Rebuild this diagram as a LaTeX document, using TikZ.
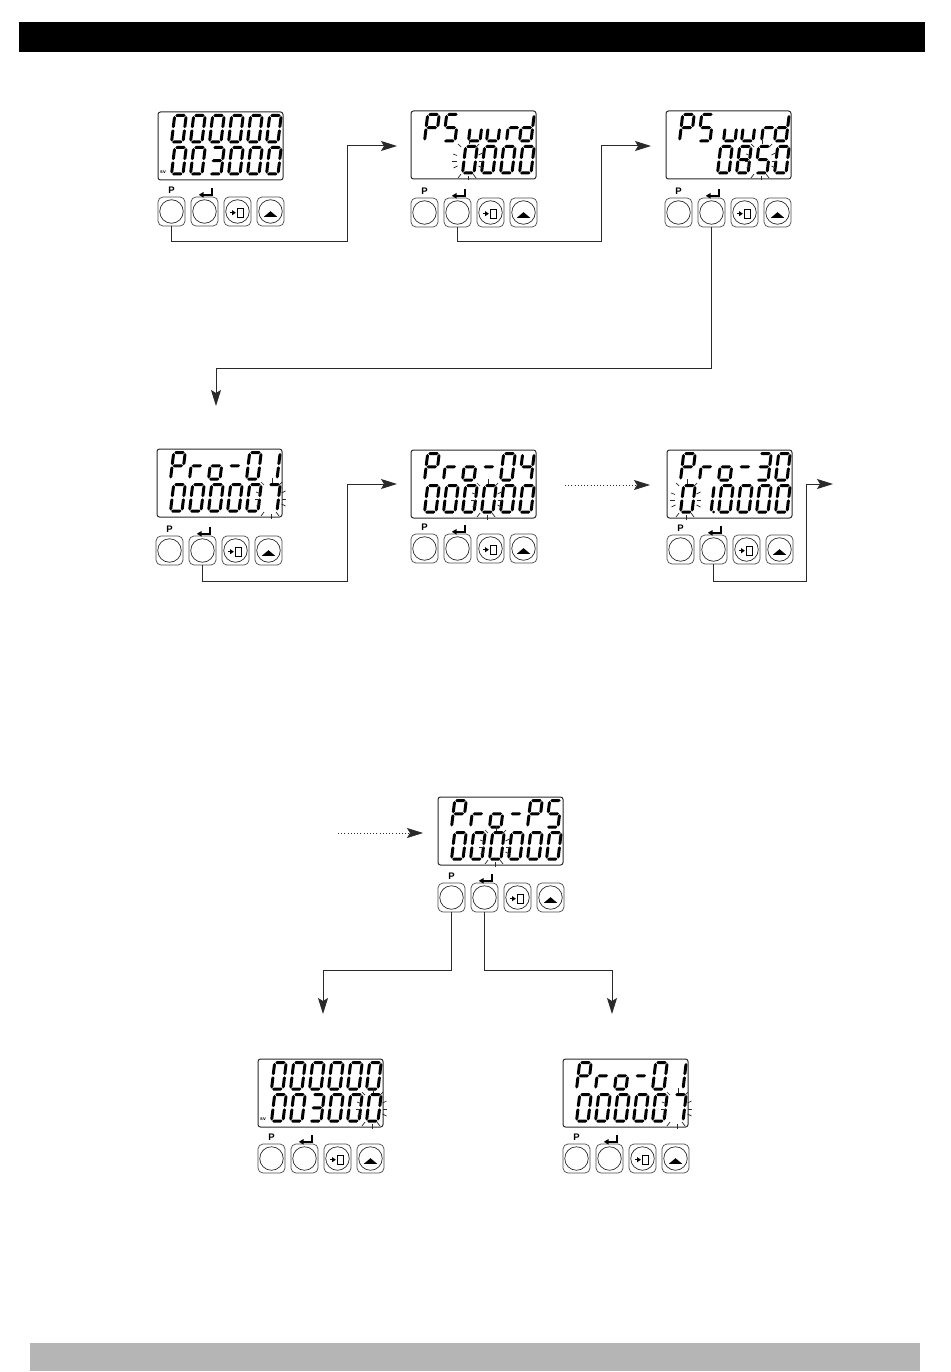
\documentclass[tikz,border=0pt]{standalone}
\usepackage{fontspec}
\setsansfont{Liberation Sans}
\usetikzlibrary{arrows.meta}
\definecolor{barblack}{HTML}{000000}
\definecolor{bargray}{HTML}{B5B5B5}
\definecolor{inkline}{HTML}{2A2A2A}
\tikzset{
  lcdbox/.style={draw=inkline,line width=1pt,rounded corners=2.5pt,minimum width=125pt,minimum height=68pt,inner sep=0pt,outer sep=0pt},
  btnbox/.style={draw=inkline!85,line width=.7pt,rounded corners=5pt,minimum width=27pt,minimum height=29pt,inner sep=0pt,outer sep=0pt},
  btncirc/.style={draw=inkline,line width=.7pt,circle,minimum size=23.5pt,inner sep=0pt,outer sep=0pt},
  flowline/.style={draw=inkline,line width=1pt,-{Stealth[length=16pt,width=10pt,inset=3pt]}},
  dotline/.style={draw=inkline,line width=.7pt,dash pattern=on .9pt off 2.3pt,-{Stealth[length=16pt,width=10pt,inset=3pt]}},
  ray/.style={draw=inkline,line width=.7pt},
  plabel/.style={font=\sffamily\bfseries\fontsize{9.5}{10}\selectfont,inner sep=0pt,text=black},
  svlabel/.style={font=\sffamily\bfseries\fontsize{5}{5}\selectfont,inner sep=0pt,text=black},
}
% segments
\newcommand\hseg[3]{\fill[black] (#1,#3) -- (#1+1.5,#3-1.5) -- (#2-1.5,#3-1.5) -- (#2,#3) -- (#2-1.5,#3+1.5) -- (#1+1.5,#3+1.5) -- cycle;}
\newcommand\vseg[3]{\fill[black] (#1,#2) -- (#1+1.5,#2+1.5) -- (#1+1.5,#3-1.5) -- (#1,#3) -- (#1-1.5,#3-1.5) -- (#1-1.5,#2+1.5) -- cycle;}
\newcommand\sgA{\hseg{.6}{10.9}{0}}
\newcommand\sgB{\vseg{11.5}{.6}{12.7}}
\newcommand\sgC{\vseg{11.5}{13.8}{25.9}}
\newcommand\sgD{\hseg{.6}{10.9}{26.5}}
\newcommand\sgE{\vseg{0}{13.8}{25.9}}
\newcommand\sgF{\vseg{0}{.6}{12.7}}
\newcommand\sgG{\hseg{.6}{10.9}{13.25}}
\newcommand\gO{\sgA\sgB\sgC\sgD\sgE\sgF}
\newcommand\gOne{\sgB\sgC}
\newcommand\gThree{\sgA\sgB\sgC\sgD\sgG}
\newcommand\gFour{\sgB\sgC\sgF\sgG}
\newcommand\gFive{\sgA\sgC\sgD\sgF\sgG}
\newcommand\gSeven{\sgA\sgB\sgC}
\newcommand\gEight{\sgA\sgB\sgC\sgD\sgE\sgF\sgG}
\newcommand\gP{\sgA\sgB\sgE\sgF\sgG}
\newcommand\gr{\sgE\sgG}
\newcommand\go{\sgC\sgD\sgE\sgG}
\newcommand\gu{\sgC\sgD\sgE}
\newcommand\gd{\sgB\sgC\sgD\sgE\sgG}
\newcommand\gDash{\sgG}
\newcommand\gNone{}
\newcommand\glyph[3]{\begin{scope}[shift={(#1+4.7,#2)},xslant=.12]#3\end{scope}}
\newcommand\cells[3]{\foreach \g [count=\i from 0] in {#3}{\glyph{#1+12+19*\i}{#2}{\g}}}
\newcommand\topcells[3]{\cells{#1}{#2+3.5}{#3}}
\newcommand\botcells[3]{\cells{#1}{#2+35.5}{#3}}
\newcommand\toppsuurd[2]{%
  \glyph{#1+12}{#2+3.5}{\gP}\glyph{#1+31}{#2+3.5}{\gFive}%
  \glyph{#1+56}{#2+3.5}{\gu}\glyph{#1+74}{#2+3.5}{\gu}%
  \glyph{#1+94}{#2+3.5}{\gr}\glyph{#1+107}{#2+3.5}{\gd}}
\newcommand\blinkat[3]{\begin{scope}[shift={(#1+21+19*#3,#2+49)}]
  \draw[ray] (-1,-20)--(-1,-15.5);
  \draw[ray] (-12,-16)--(-9,-13);
  \draw[ray] (6,-13)--(9,-16);
  \draw[ray] (-17,-6)--(-13,-4.5);
  \draw[ray] (-18,1)--(-13.5,1);
  \draw[ray] (-16.5,8)--(-12.5,6);
  \draw[ray] (8.5,-5)--(12.5,-7);
  \draw[ray] (8.5,1)--(13,1);
  \draw[ray] (8.5,6)--(12.5,8);
  \draw[ray] (-12,18)--(-9,14);
  \draw[ray] (3,14)--(6,18);
  \draw[ray] (-2,16)--(-2,20.5);
\end{scope}}
% device: name, lcd x, lcd y, button x, button y
\newcommand\device[5]{%
  \node[lcdbox] (#1lcd) at (#2+62.5,#3+34) {};
  \node[btnbox] (#1p) at (#4+13.5,#5+14.5) {};
  \node[btncirc] (#1pc) at (#1p) {};
  \node[plabel] (#1pl) at (#4+13.5,#5-6.5) {P};
  \node[btnbox] (#1e) at (#4+46.5,#5+14.5) {};
  \node[btncirc] (#1ec) at (#1e) {};
  \begin{scope}[shift={(#4+33,#5)}]
    \draw[black,line width=2pt] (20.7,-9) -- (20.7,-2.2) -- (11,-2.2);
    \fill[black] (7.8,-2.2) -- (12.5,-5) -- (12.5,.6) -- cycle;
  \end{scope}
  \node[btnbox] (#1m) at (#4+79.5,#5+14.5) {};
  \node[btncirc] (#1mc) at (#1m) {};
  \begin{scope}[shift={(#4+66,#5)}]
    \draw[black,line width=1pt] (6,15.7) -- (9,15.7);
    \fill[black] (11.8,15.7) -- (8.2,13.2) -- (8.2,18.2) -- cycle;
    \draw[black,line width=.6pt] (13,11.5) rectangle (19,20.5);
    \draw[black,line width=1.2pt] (13,20.2) -- (19,20.2);
  \end{scope}
  \node[btnbox] (#1u) at (#4+112.5,#5+14.5) {};
  \node[btncirc] (#1uc) at (#1u) {};
  \begin{scope}[shift={(#4+99,#5)}]
    \fill[black] (6.8,19.8) -- (20.2,19.8) -- (13.5,14.2) -- cycle;
  \end{scope}
}
\begin{document}
\begin{tikzpicture}[x=1pt,y=-1pt]
\useasboundingbox (0,0) rectangle (950,1372);
\fill[white] (0,0) rectangle (950,1372);
\fill[barblack] (19,22) rectangle (925,52);
\fill[bargray] (30,1343) rectangle (920,1371);

% D1
\device{da}{158}{112}{158}{197}
\topcells{158}{112}{\gO,\gO,\gO,\gO,\gO,\gO}
\botcells{158}{112}{\gO,\gO,\gThree,\gO,\gO,\gO}
\node[svlabel] (dasv) at (163,172) {sv};
% D2
\device{db}{411}{111}{411}{198}
\toppsuurd{411}{111}
\botcells{411}{111}{\gNone,\gNone,\gO,\gO,\gO,\gO}
\blinkat{411}{111}{2}
% D3
\device{dc}{666}{111}{665}{198}
\toppsuurd{666}{111}
\botcells{666}{111}{\gNone,\gNone,\gO,\gEight,\gFive,\gO}
\blinkat{666}{111}{4}
% D4
\device{dd}{157}{449}{156}{536}
\topcells{157}{449}{\gP,\gr,\go,\gDash,\gO,\gOne}
\botcells{157}{449}{\gO,\gO,\gO,\gO,\gO,\gSeven}
\blinkat{157}{449}{5}
% D5
\device{de}{411}{450}{411}{534}
\topcells{411}{450}{\gP,\gr,\go,\gDash,\gO,\gFour}
\botcells{411}{450}{\gO,\gO,\gO,\gO,\gO,\gO}
\blinkat{411}{450}{3}
% D6
\device{df}{667}{450}{667}{535}
\topcells{667}{450}{\gP,\gr,\go,\gDash,\gThree,\gO}
\botcells{667}{450}{\gO,\gOne,\gO,\gO,\gO,\gO}
\fill[black] (713.5,512) circle (1.5);
\blinkat{667}{450}{0}
% D7
\device{dg}{438}{797}{438}{883}
\topcells{438}{797}{\gP,\gr,\go,\gDash,\gP,\gFive}
\botcells{438}{797}{\gO,\gO,\gO,\gO,\gO,\gO}
\blinkat{438}{797}{2}
% D8
\device{dh}{258}{1059}{258}{1144}
\topcells{258}{1059}{\gO,\gO,\gO,\gO,\gO,\gO}
\botcells{258}{1059}{\gO,\gO,\gThree,\gO,\gO,\gO}
\node[svlabel] (dhsv) at (263,1119) {sv};
\blinkat{258}{1059}{5}
% D9
\device{di}{563}{1059}{563}{1144}
\topcells{563}{1059}{\gP,\gr,\go,\gDash,\gO,\gOne}
\botcells{563}{1059}{\gO,\gO,\gO,\gO,\gO,\gSeven}
\blinkat{563}{1059}{5}

% connector waypoints
\coordinate (ca) at (347,242); \coordinate (ta) at (397,146);
\coordinate (cb) at (601,242); \coordinate (tb) at (651,146);
\coordinate (cc) at (216,368); \coordinate (tc) at (216,406);
\coordinate (cd) at (347,581); \coordinate (td) at (397,484);
\coordinate (ce) at (806,581); \coordinate (te) at (833,484);
\coordinate (sf) at (565,485); \coordinate (tf) at (650,485);
\coordinate (sg) at (338,833); \coordinate (tg) at (423,833);
\coordinate (ch) at (323,970); \coordinate (th) at (323,1014);
\coordinate (ci) at (612,970); \coordinate (ti) at (612,1014);

\draw[flowline] (dap.south) |- (ca) |- (ta);
\draw[flowline] (dbe.south) |- (cb) |- (tb);
\draw[flowline] (dce.south) |- (cc) -- (tc);
\draw[flowline] (dde.south) |- (cd) |- (td);
\draw[flowline] (dfe.south) |- (ce) |- (te);
\draw[dotline] (sf) -- (tf);
\draw[dotline] (sg) -- (tg);
\draw[flowline] (dgp.south) |- (ch) -- (th);
\draw[flowline] (dge.south) |- (ci) -- (ti);
\end{tikzpicture}
\end{document}
